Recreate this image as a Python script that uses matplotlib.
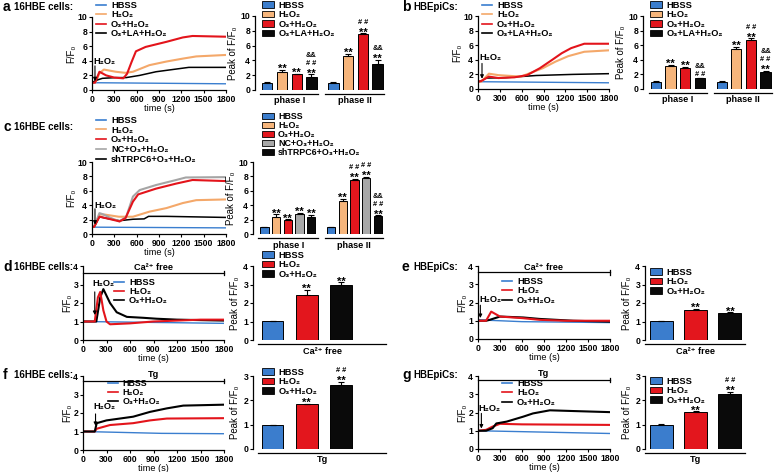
import matplotlib
matplotlib.use('Agg')
import matplotlib.pyplot as plt
from matplotlib.patches import Patch
from matplotlib.lines import Line2D

plt.rcParams['font.family'] = ['Liberation Sans', 'DejaVu Sans']
plt.rcParams['font.weight'] = 'bold'
plt.rcParams['axes.linewidth'] = 0.9

# ---------------- labels ----------------
L_HBSS = 'HBSS'
L_H2O2 = 'H\u2082O\u2082'
L_O3 = 'O\u2083+H\u2082O\u2082'
L_LA = 'O\u2083+LA+H\u2082O\u2082'
L_NC = 'NC+O\u2083+H\u2082O\u2082'
L_SH = 'shTRPC6+O\u2083+H\u2082O\u2082'
L_CA = 'Ca\u00b2\u207a free'
time_ticks = [0, 300, 600, 900, 1200, 1500, 1800]

# ---------------- trace data (time s, F/F0) ----------------
# panel a (16HBE)
a_hbss_t = [0, 1800]; a_hbss_v = [1.0, 0.85]
a_h2o2_t = [0, 50, 100, 160, 320, 450, 550, 770, 1000, 1220, 1400, 1600, 1800]
a_h2o2_v = [1.0, 1.1, 2.3, 2.8, 2.5, 2.35, 2.5, 3.4, 3.9, 4.3, 4.6, 4.7, 4.8]
a_o3_t = [0, 40, 100, 190, 300, 420, 470, 530, 590, 720, 1000, 1220, 1350, 1800]
a_o3_v = [1.0, 1.0, 2.5, 2.0, 1.7, 1.6, 2.2, 3.8, 5.3, 5.9, 6.6, 7.2, 7.4, 7.3]
a_la_t = [0, 50, 140, 320, 460, 640, 860, 1080, 1300, 1800]
a_la_v = [1.0, 1.3, 1.6, 1.7, 1.7, 2.0, 2.5, 2.8, 3.1, 3.1]

# panel b (HBEpiCs)
b_hbss_t = [0, 1800]; b_hbss_v = [1.0, 0.85]
b_h2o2_t = [0, 45, 150, 280, 590, 720, 890, 1065, 1240, 1460, 1800]
b_h2o2_v = [1.0, 1.0, 2.1, 1.9, 1.7, 2.2, 2.85, 3.75, 4.5, 5.1, 5.3]
b_o3_t = [0, 45, 150, 280, 500, 675, 850, 1020, 1150, 1280, 1460, 1800]
b_o3_v = [1.0, 1.1, 1.7, 1.5, 1.6, 1.9, 2.85, 4.0, 4.9, 5.6, 6.2, 6.2]
b_la_t = [0, 45, 110, 370, 800, 1300, 1800]
b_la_v = [1.0, 1.1, 1.5, 1.55, 1.85, 2.0, 2.1]

# panel c (16HBE)
c_hbss_t = [0, 1800]; c_hbss_v = [0.95, 0.85]
c_h2o2_t = [0, 30, 100, 170, 360, 550, 770, 1000, 1220, 1400, 1800]
c_h2o2_v = [1.0, 1.0, 2.7, 2.7, 2.4, 2.4, 3.1, 3.6, 4.3, 4.7, 4.8]
c_o3_t = [0, 30, 100, 230, 370, 450, 550, 620, 860, 1130, 1350, 1800]
c_o3_v = [1.0, 1.0, 2.4, 2.1, 1.75, 2.2, 4.5, 5.5, 6.3, 7.0, 7.5, 7.35]
c_nc_t = [0, 30, 100, 145, 235, 370, 460, 550, 640, 860, 1130, 1260, 1800]
c_nc_v = [1.0, 1.05, 2.9, 2.75, 2.3, 1.75, 2.4, 5.2, 6.1, 6.8, 7.5, 7.85, 7.9]
c_sh_t = [0, 30, 100, 230, 370, 550, 700, 760, 1000, 1800]
c_sh_v = [1.0, 1.0, 2.4, 2.1, 1.85, 2.05, 2.1, 2.45, 2.45, 2.3]

# panel d (16HBE, Ca2+ free)
d_hbss_t = [0, 1800]; d_hbss_v = [1.0, 0.9]
d_h2o2_t = [0, 150, 190, 220, 260, 300, 345, 600, 900, 1200, 1500, 1800]
d_h2o2_v = [1.0, 1.0, 2.3, 2.6, 1.6, 1.0, 0.85, 0.9, 1.0, 1.05, 1.1, 1.1]
d_o3_t = [0, 170, 220, 260, 345, 430, 560, 770, 940, 1200, 1800]
d_o3_v = [1.0, 1.0, 2.3, 2.75, 2.0, 1.5, 1.25, 1.2, 1.15, 1.1, 1.05]

# panel e (HBEpiCs, Ca2+ free)
e_hbss_t = [0, 600, 1800]; e_hbss_v = [1.05, 0.95, 0.9]
e_h2o2_t = [0, 110, 180, 300, 615, 840, 1200, 1800]
e_h2o2_v = [1.0, 1.0, 1.5, 1.23, 1.14, 1.05, 1.0, 1.0]
e_o3_t = [0, 110, 160, 300, 615, 840, 1300, 1800]
e_o3_v = [1.0, 1.0, 1.05, 1.23, 1.18, 1.1, 1.0, 0.95]

# panel f (16HBE, Tg)
f_hbss_t = [0, 1000, 1800]; f_hbss_v = [1.0, 0.9, 0.88]
f_h2o2_t = [0, 150, 175, 345, 640, 855, 1070, 1800]
f_h2o2_v = [1.0, 1.0, 1.15, 1.35, 1.45, 1.6, 1.7, 1.72]
f_o3_t = [0, 150, 175, 300, 640, 855, 1070, 1280, 1800]
f_o3_v = [1.0, 1.0, 1.45, 1.6, 1.8, 2.06, 2.25, 2.4, 2.45]

# panel g (HBEpiCs, Tg)
g_hbss_t = [0, 1800]; g_hbss_v = [1.0, 0.85]
g_h2o2_t = [0, 110, 200, 300, 600, 1800]
g_h2o2_v = [1.0, 1.05, 1.23, 1.38, 1.35, 1.32]
g_o3_t = [0, 110, 200, 250, 390, 615, 750, 980, 1300, 1800]
g_o3_v = [1.0, 1.0, 1.14, 1.4, 1.5, 1.77, 1.95, 2.12, 2.08, 2.02]

# ---------------- bar data ----------------
# significance marks listed bottom -> top
a_p1 = [1.0, 2.4, 2.1, 1.8];   a_p1_err = [0.03, 0.3, 0.1, 0.3]
a_p2 = [1.0, 4.6, 7.5, 3.5];   a_p2_err = [0.03, 0.3, 0.15, 0.6]
a_p1_sig = [[], ['**'], ['**'], ['**', '# #', '&&']]
a_p2_sig = [[], ['**'], ['**', '# #'], ['**', '&&']]
b_p1 = [1.0, 3.2, 2.85, 1.45]; b_p1_err = [0.03, 0.1, 0.15, 0.1]
b_p2 = [1.0, 5.45, 6.75, 2.3]; b_p2_err = [0.03, 0.3, 0.2, 0.15]
b_p1_sig = [[], ['**'], ['**'], ['# #', '&&']]
b_p2_sig = [[], ['**'], ['**', '# #'], ['**', '# #', '&&']]
c_p1 = [1.0, 2.4, 2.0, 2.75, 2.4]; c_p1_err = [0.03, 0.35, 0.05, 0.2, 0.3]
c_p2 = [1.0, 4.6, 7.5, 7.8, 2.5]; c_p2_err = [0.03, 0.3, 0.15, 0.1, 0.1]
c_p1_sig = [[], ['**'], ['**'], ['**'], ['**']]
c_p2_sig = [[], ['**'], ['**', '# #'], ['**', '# #'], ['**', '# #', '&&']]
d_bar = [1.05, 2.45, 3.0]; d_bar_err = [0.0, 0.25, 0.12]; d_sig = [[], ['**'], ['**']]
e_bar = [1.05, 1.6, 1.45]; e_bar_err = [0.0, 0.1, 0.04]; e_sig = [[], ['**'], ['**']]
f_bar = [0.97, 1.83, 2.62]; f_bar_err = [0.03, 0.03, 0.15]; f_sig = [[], ['**'], ['**', '# #']]
g_bar = [1.0, 1.52, 2.28]; g_bar_err = [0.02, 0.03, 0.08]; g_sig = [[], ['**'], ['**', '# #']]

# ---------------- colours ----------------
C_BLUE = '#3a7ecf'
C_ORANGE = '#f4a86a'
C_RED = '#e3141b'
C_GRAY = '#a5a5a5'
C_BLACK = '#000000'
B_BLUE = '#3b7dcd'
B_ORANGE = '#f6b57b'
B_RED = '#e3161d'
B_GRAY = '#a8a8a8'
B_BLACK = '#0a0a0a'

W, H = 778, 472
fig = plt.figure(figsize=(W / 100, H / 100), dpi=100)
FS = 6.2      # tick labels
LFS = 6.7     # legend text
AFS = 6.6     # axis / group labels


def box(l, t, r, b):
    return fig.add_axes([l / W, 1 - b / H, (r - l) / W, (b - t) / H])


def fig_legend(ax, handles, labels, x, y, bar=False, sp=0.05, fs=LFS):
    kw = dict(handlelength=1.3, handleheight=0.7) if bar else dict(handlelength=1.1)
    ax.legend(handles, labels, loc='upper left', bbox_to_anchor=(x / W, 1 - y / H),
              bbox_transform=fig.transFigure, frameon=False, fontsize=fs,
              borderpad=0, borderaxespad=0, labelspacing=sp, handletextpad=0.5, **kw)


def trace_axes(rect, series, ylim, yticks, arrow):
    ax = box(*rect)
    for t, v, c, lw in series:
        ax.plot(t, v, color=c, lw=lw, solid_joinstyle='round')
    ax.set_xlim(0, 1800)
    ax.set_ylim(*ylim)
    ax.set_xticks(time_ticks)
    ax.set_yticks(yticks)
    ax.tick_params(labelsize=FS, length=2.5, width=0.8, pad=1)
    for s in ('top', 'right'):
        ax.spines[s].set_visible(False)
    ax.set_xlabel('time (s)', fontsize=AFS, labelpad=0)
    ax.set_ylabel('F/F\u2080', fontsize=AFS + 0.3, labelpad=1)
    (ta, y0, y1, tt, yt) = arrow
    ax.annotate('', xy=(ta, y1), xytext=(ta, y0),
                arrowprops=dict(arrowstyle='-|>', color='black', lw=0.8, mutation_scale=5,
                                shrinkA=0, shrinkB=0))
    ax.text(tt, yt, L_H2O2, fontsize=LFS, ha='left', va='center')
    return ax


SIG_SIZE = {'**': 8.0, '# #': 5.3, '&&': 5.3}


def draw_sig(ax, x, top, items):
    off = 0.0
    for k, m in enumerate(items):
        if k == 0:
            off = -1.6 if m == '**' else 0.9
        else:
            off += 8.6 if items[k - 1] == '**' else 5.8
        ax.annotate(m, (x, top), xytext=(0, off), textcoords='offset points',
                    ha='center', va='baseline', fontsize=SIG_SIZE[m])


def bar_axes(rect, centers, vals, errs, cols, sigs, width, xlim, ylim, yticks, groups):
    ax = box(*rect)
    ax.bar(centers, vals, width=width, color=cols, edgecolor='black', linewidth=0.7, zorder=2)
    ax.errorbar(centers, vals, yerr=[[0] * len(vals), errs], fmt='none', ecolor='black',
                elinewidth=0.8, capsize=2, capthick=0.8, zorder=3)
    for x, v, e, m in zip(centers, vals, errs, sigs):
        draw_sig(ax, x, v + e, m)
    ax.set_xlim(*xlim)
    ax.set_ylim(*ylim)
    ax.set_yticks(yticks)
    ax.tick_params(axis='y', labelsize=FS, length=2.5, width=0.8, pad=1)
    ax.tick_params(axis='x', bottom=False, labelbottom=False)
    for s in ('top', 'right', 'bottom'):
        ax.spines[s].set_visible(False)
    ax.set_ylabel('Peak of F/F\u2080', fontsize=AFS + 0.3, labelpad=2)
    hpx = rect[3] - rect[1]
    for x0, x1, lab in groups:
        ax.plot([x0, x1], [-4 / hpx] * 2, transform=ax.get_xaxis_transform(), color='black',
                lw=0.9, clip_on=False)
        ax.text((x0 + x1) / 2, -11 / hpx, lab, transform=ax.get_xaxis_transform(),
                ha='center', va='center', fontsize=AFS)
    return ax


def bracket(ax, y, label, ytext):
    ax.plot([0, 1800], [y, y], color='black', lw=0.9, clip_on=False)
    ax.plot([1800, 1800], [y - 0.12, y + 0.12], color='black', lw=0.9, clip_on=False)
    ax.text(900, ytext, label, ha='center', va='center', fontsize=AFS, clip_on=False)


def line_handles(cols):
    return [Line2D([], [], color=c, lw=1.2) for c in cols]


def patch_handles(cols):
    return [Patch(facecolor=c, edgecolor='black', linewidth=0.6) for c in cols]


def panel_title(x, y, letter, name):
    fig.text(x / W, 1 - y / H, letter, fontsize=10, ha='left', va='center')
    fig.text((x + 11) / W, 1 - y / H, name, fontsize=7, ha='left', va='center')


# ======== panel a ========
ax = trace_axes((92, 17, 226, 90),
                [(a_hbss_t, a_hbss_v, C_BLUE, 1.0), (a_h2o2_t, a_h2o2_v, C_ORANGE, 1.5),
                 (a_la_t, a_la_v, C_BLACK, 1.1), (a_o3_t, a_o3_v, C_RED, 1.5)],
                (0, 10), range(0, 11, 2), (40, 3.3, 1.2, 20, 3.9))
fig_legend(ax, line_handles([C_BLUE, C_ORANGE, C_RED, C_BLACK]),
           [L_HBSS, L_H2O2, L_O3, L_LA], 96, 1)
xs4 = [0, 1, 2, 3, 4.5, 5.5, 6.5, 7.5]
cols4 = [B_BLUE, B_ORANGE, B_RED, B_BLACK] * 2
ax = bar_axes((255, 16, 385, 90), xs4, a_p1 + a_p2, a_p1_err + a_p2_err, cols4,
              a_p1_sig + a_p2_sig, 0.7, (-0.83, 8.0), (0, 10), range(0, 11, 2),
              [(-0.48, 3.47, 'phase I'), (3.95, 7.9, 'phase II')])
fig_legend(ax, patch_handles([B_BLUE, B_ORANGE, B_RED, B_BLACK]),
           [L_HBSS, L_H2O2, L_O3, L_LA], 262, 1, bar=True)
panel_title(3, 7, 'a', '16HBE cells:')

# ======== panel b ========
ax = trace_axes((478, 16, 609, 89),
                [(b_hbss_t, b_hbss_v, C_BLUE, 1.0), (b_la_t, b_la_v, C_BLACK, 1.1),
                 (b_h2o2_t, b_h2o2_v, C_ORANGE, 1.5), (b_o3_t, b_o3_v, C_RED, 1.5)],
                (0, 10), range(0, 11, 2), (55, 3.5, 1.4, 20, 4.3))
fig_legend(ax, line_handles([C_BLUE, C_ORANGE, C_RED, C_BLACK]),
           [L_HBSS, L_H2O2, L_O3, L_LA], 482, 1)
ax = bar_axes((643, 16, 775, 89), xs4, b_p1 + b_p2, b_p1_err + b_p2_err, cols4,
              b_p1_sig + b_p2_sig, 0.7, (-0.89, 8.15), (0, 10), range(0, 11, 2),
              [(-0.5, 3.5, 'phase I'), (3.95, 7.95, 'phase II')])
fig_legend(ax, patch_handles([B_BLUE, B_ORANGE, B_RED, B_BLACK]),
           [L_HBSS, L_H2O2, L_O3, L_LA], 650, 1, bar=True)
panel_title(402, 7, 'b', 'HBEpiCs:')

# ======== panel c ========
ax = trace_axes((92, 162, 226, 234),
                [(c_hbss_t, c_hbss_v, C_BLUE, 1.0), (c_h2o2_t, c_h2o2_v, C_ORANGE, 1.5),
                 (c_sh_t, c_sh_v, C_BLACK, 1.1), (c_nc_t, c_nc_v, C_GRAY, 1.5),
                 (c_o3_t, c_o3_v, C_RED, 1.5)],
                (0, 10), range(0, 11, 2), (40, 3.5, 1.3, 30, 4.0))
fig_legend(ax, line_handles([C_BLUE, C_ORANGE, C_RED, C_GRAY, C_BLACK]),
           [L_HBSS, L_H2O2, L_O3, L_NC, L_SH], 96, 116, sp=0.08)
xs5 = [0, 1, 2, 3, 4, 5.7, 6.7, 7.7, 8.7, 9.7]
cols5 = [B_BLUE, B_ORANGE, B_RED, B_GRAY, B_BLACK] * 2
ax = bar_axes((253, 162, 385, 234), xs5, c_p1 + c_p2, c_p1_err + c_p2_err, cols5,
              c_p1_sig + c_p2_sig, 0.7, (-0.98, 10.3), (0, 10), range(0, 11, 2),
              [(-0.55, 4.6, 'phase I'), (5.2, 10.1, 'phase II')])
fig_legend(ax, patch_handles([B_BLUE, B_ORANGE, B_RED, B_GRAY, B_BLACK]),
           [L_HBSS, L_H2O2, L_O3, L_NC, L_SH], 262, 112, bar=True, sp=0.0, fs=6.4)
panel_title(3, 127, 'c', '16HBE cells:')

xs3 = [0, 1, 2]
cols3 = [B_BLUE, B_RED, B_BLACK]

# ======== panel d ========
ax = trace_axes((83, 266, 224, 340),
                [(d_hbss_t, d_hbss_v, C_BLUE, 1.0), (d_o3_t, d_o3_v, C_BLACK, 1.5),
                 (d_h2o2_t, d_h2o2_v, C_RED, 1.5)],
                (0, 4), range(0, 5), (150, 2.6, 1.35, 126, 3.05))
bracket(ax, 3.62, L_CA, 3.9)
fig_legend(ax, line_handles([C_BLUE, C_RED, C_BLACK]), [L_HBSS, L_H2O2, L_O3], 114, 278,
           sp=0.0)
ax = bar_axes((253, 266, 390, 340), xs3, d_bar, d_bar_err, cols3, d_sig, 0.63,
              (-0.57, 3.43), (0, 4), range(0, 5), [(-0.42, 3.32, L_CA)])
fig_legend(ax, patch_handles(cols3), [L_HBSS, L_H2O2, L_O3], 262, 251, bar=True)
panel_title(3, 267, 'd', '16HBE cells:')

# ======== panel e ========
ax = trace_axes((478, 266, 610, 339),
                [(e_hbss_t, e_hbss_v, C_BLUE, 1.0), (e_o3_t, e_o3_v, C_BLACK, 1.5),
                 (e_h2o2_t, e_h2o2_v, C_RED, 1.5)],
                (0, 4), range(0, 5), (32, 1.85, 1.15, 20, 2.15))
bracket(ax, 3.65, L_CA, 3.92)
fig_legend(ax, line_handles([C_BLUE, C_RED, C_BLACK]), [L_HBSS, L_H2O2, L_O3], 502, 277)
ax = bar_axes((645, 266, 745, 340), xs3, e_bar, e_bar_err, cols3, e_sig, 0.67,
              (-0.48, 2.44), (0, 4), range(0, 5), [(-0.48, 2.44, L_CA)])
fig_legend(ax, patch_handles(cols3), [L_HBSS, L_H2O2, L_O3], 650, 268, bar=True)
panel_title(402, 267, 'e', 'HBEpiCs:')

# ======== panel f ========
ax = trace_axes((83, 376, 224, 450),
                [(f_hbss_t, f_hbss_v, C_BLUE, 1.0), (f_h2o2_t, f_h2o2_v, C_RED, 1.5),
                 (f_o3_t, f_o3_v, C_BLACK, 1.5)],
                (0, 4), range(0, 5), (160, 1.95, 1.3, 133, 2.35))
bracket(ax, 3.73, 'Tg', 4.1)
fig_legend(ax, line_handles([C_BLUE, C_RED, C_BLACK]), [L_HBSS, L_H2O2, L_O3], 108, 379,
           sp=0.0, fs=6.4)
ax = bar_axes((253, 376, 390, 449), xs3, f_bar, f_bar_err, cols3, f_sig, 0.63,
              (-0.57, 3.43), (0, 3), range(0, 4), [(-0.42, 3.32, 'Tg')])
fig_legend(ax, patch_handles(cols3), [L_HBSS, L_H2O2, L_O3], 262, 368, bar=True)
panel_title(3, 375, 'f', '16HBE cells:')

# ======== panel g ========
ax = trace_axes((478, 376, 610, 449),
                [(g_hbss_t, g_hbss_v, C_BLUE, 1.0), (g_h2o2_t, g_h2o2_v, C_RED, 1.5),
                 (g_o3_t, g_o3_v, C_BLACK, 1.5)],
                (0, 4), range(0, 5), (46, 1.95, 1.12, 5, 2.2))
bracket(ax, 3.78, 'Tg', 4.12)
fig_legend(ax, line_handles([C_BLUE, C_RED, C_BLACK]), [L_HBSS, L_H2O2, L_O3], 502, 379)
ax = bar_axes((645, 376, 745, 449), xs3, g_bar, g_bar_err, cols3, g_sig, 0.67,
              (-0.48, 2.44), (0, 3), range(0, 4), [(-0.48, 2.44, 'Tg')])
fig_legend(ax, patch_handles(cols3), [L_HBSS, L_H2O2, L_O3], 650, 377, bar=True)
panel_title(402, 375, 'g', 'HBEpiCs:')

fig.savefig('out.png', dpi=100)
